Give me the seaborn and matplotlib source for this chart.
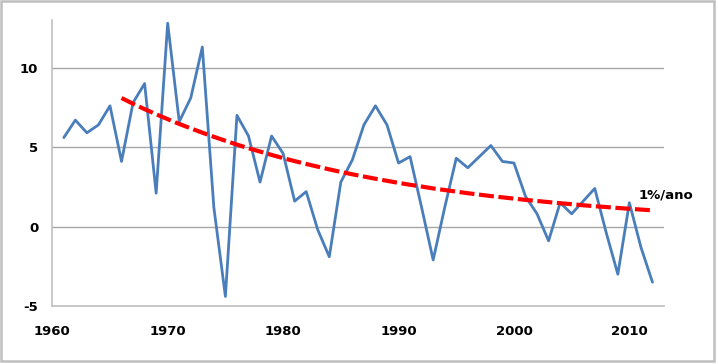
import pandas as pd
import matplotlib
matplotlib.use('Agg')
import matplotlib.pyplot as plt
from matplotlib.patches import Rectangle
import seaborn as sns

# Série anual (leitura do gráfico)
anos = list(range(1961, 2013))
valores = [5.6, 6.7, 5.9, 6.4, 7.6, 4.1, 7.8, 9.0, 2.1, 12.8,
           6.6, 8.1, 11.3, 1.2, -4.4, 7.0, 5.7, 2.8, 5.7, 4.6,
           1.6, 2.2, -0.2, -1.9, 2.8, 4.2, 6.4, 7.6, 6.4, 4.0,
           4.4, 1.2, -2.1, 1.2, 4.3, 3.7, 4.4, 5.1, 4.1, 4.0,
           1.9, 0.8, -0.9, 1.5, 0.8, 1.6, 2.4, -0.4, -3.0, 1.5,
           -1.3, -3.5]

# Linha de tendência (leitura do gráfico)
anos_tend = list(range(1966, 2013))
tendencia = [8.09, 7.73, 7.39, 7.07, 6.76, 6.46, 6.18, 5.91, 5.65, 5.40,
             5.16, 4.93, 4.72, 4.51, 4.31, 4.12, 3.94, 3.77, 3.60, 3.44,
             3.29, 3.15, 3.01, 2.88, 2.75, 2.63, 2.52, 2.40, 2.30, 2.20,
             2.10, 2.01, 1.92, 1.84, 1.76, 1.68, 1.61, 1.54, 1.47, 1.41,
             1.34, 1.28, 1.23, 1.17, 1.12, 1.07, 1.02]

rotulo_tend = '1%/ano'
ticks_x = [1960, 1970, 1980, 1990, 2000, 2010]
ticks_y = [-5, 0, 5, 10]

df = pd.DataFrame({'ano': anos, 'valor': valores})
df_tend = pd.DataFrame({'ano': anos_tend, 'valor': tendencia})

sns.set_style('white')
plt.rcParams['font.family'] = ['DejaVu Sans']
plt.rcParams['axes.unicode_minus'] = False

fig = plt.figure(figsize=(7.18, 3.64), dpi=100)
ax = fig.add_axes([0.0728, 0.1593, 0.852, 0.7857])

cinza = '#A6A6A6'
for y in ticks_y[1:]:
    ax.axhline(y, color=cinza, lw=1.0, zorder=0)

sns.lineplot(data=df, x='ano', y='valor', ax=ax, color='#4A7EBB', lw=2.0)
sns.lineplot(data=df_tend, x='ano', y='valor', ax=ax, color='#FF0000',
             lw=3.0, dashes=False, linestyle=(0, (3.6, 1.1)))

ax.text(2010.8, 2.0, rotulo_tend, fontsize=9.5, fontweight='bold',
        ha='left', va='center', color='black')

ax.set_xlim(1960, 2013)
ax.set_ylim(-5, 13)
ax.set_xticks(ticks_x)
ax.set_yticks(ticks_y)
ax.set_xlabel('')
ax.set_ylabel('')

for s in ['top', 'right']:
    ax.spines[s].set_visible(False)
for s in ['left', 'bottom']:
    ax.spines[s].set_color('#BFBFBF')
    ax.spines[s].set_linewidth(1.2)

ax.tick_params(axis='both', direction='out', length=4, width=1,
               color='#BFBFBF', labelsize=9.5, labelcolor='black', pad=6)
ax.tick_params(axis='x', pad=10)
for lbl in ax.get_xticklabels() + ax.get_yticklabels():
    lbl.set_fontweight('bold')

# moldura do gráfico
fig.patches.append(Rectangle((0.002, 0.007), 0.993, 0.989,
                             transform=fig.transFigure, fill=False,
                             edgecolor='#BFBFBF', lw=1.8))

fig.savefig('out.png', dpi=100)
